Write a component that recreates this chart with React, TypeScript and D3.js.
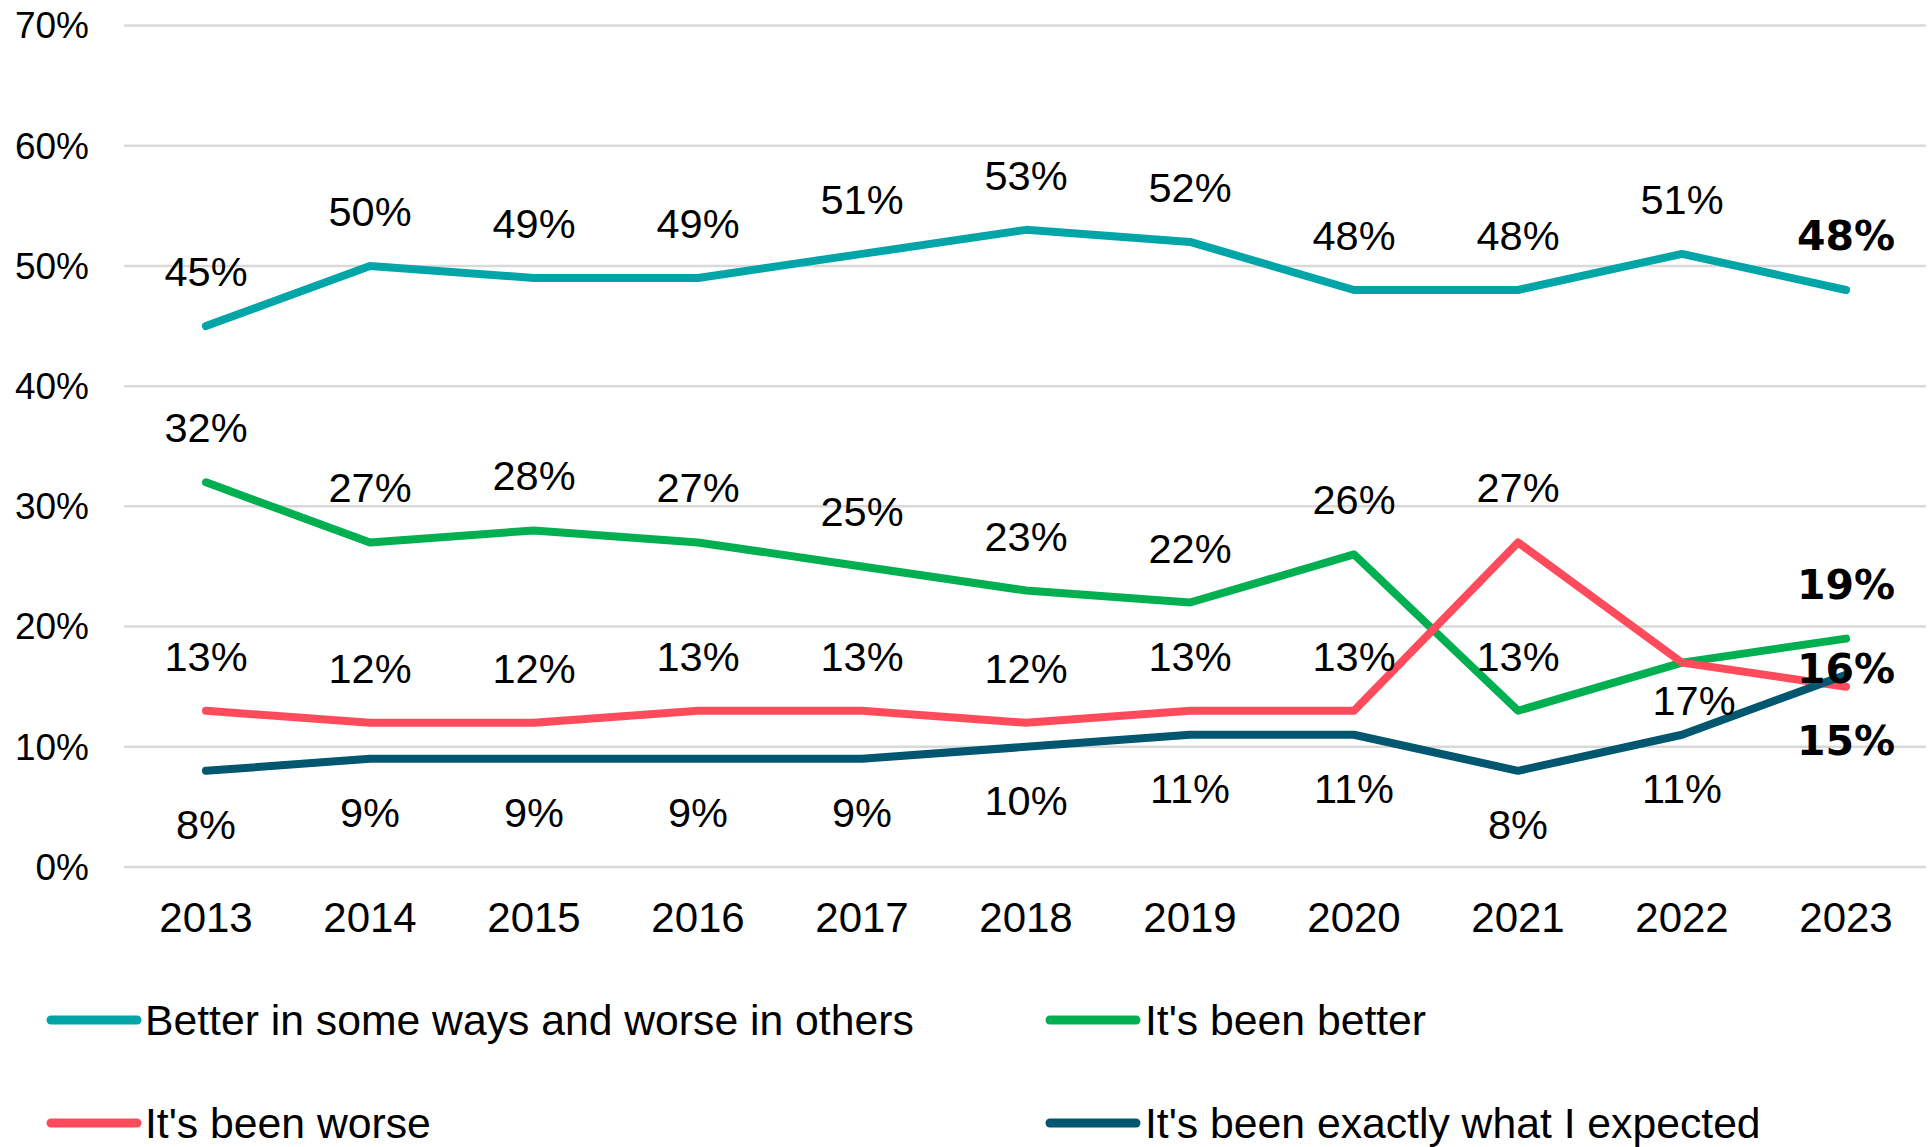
import React from 'react';
import * as d3 from 'd3';

const years = ['2013', '2014', '2015', '2016', '2017', '2018', '2019', '2020', '2021', '2022', '2023'];
const betterSomeWays = [45, 50, 49, 49, 51, 53, 52, 48, 48, 51, 48];
const beenBetter = [32, 27, 28, 27, 25, 23, 22, 26, 13, 17, 19];
const beenWorse = [13, 12, 12, 13, 13, 12, 13, 13, 27, 17, 15];
const exactlyExpected = [8, 9, 9, 9, 9, 10, 11, 11, 8, 11, 16];
const yTicks = [0, 10, 20, 30, 40, 50, 60, 70];
const seriesNames = [
  'Better in some ways and worse in others',
  "It's been better",
  "It's been worse",
  "It's been exactly what I expected",
];
const seriesColors = ['#00A5A8', '#00B050', '#FF4B5C', '#00576F'];
// label placement per point: 'a' above, 'b' below, 'c' centered, 'g' below-right, '-' none
const labelPlacement = [
  ['a', 'a', 'a', 'a', 'a', 'a', 'a', 'a', 'a', 'a', 'a'],
  ['a', 'a', 'a', 'a', 'a', 'a', 'a', 'a', 'a', 'g', 'a'],
  ['a', 'a', 'a', 'a', 'a', 'a', 'a', 'a', 'a', '-', 'b'],
  ['b', 'b', 'b', 'b', 'b', 'b', 'b', 'b', 'b', 'b', 'c'],
];

const W = 1929;
const H = 1147;
const FONT = "'Liberation Sans', Arial, sans-serif";
const BOLD_FONT = "'DejaVu Sans', 'Liberation Sans', sans-serif";

export default function App() {
  const data = [betterSomeWays, beenBetter, beenWorse, exactlyExpected];
  const x = d3.scalePoint<string>().domain(years).range([124, 1928]).padding(0.5);
  const y = d3.scaleLinear().domain([0, 70]).range([867, 25.5]);
  const line = d3
    .line<number>()
    .x((_, i) => x(years[i]) as number)
    .y((d) => y(d));

  const legendPos = [
    { lx: 51, tx: 145, ly: 1020 },
    { lx: 1050, tx: 1145, ly: 1020 },
    { lx: 51, tx: 145, ly: 1123 },
    { lx: 1050, tx: 1145, ly: 1123 },
  ];

  return (
    <svg
      width={W}
      height={H}
      style={{ position: 'absolute', left: 0, top: 0, background: '#fff' }}
      fontFamily={FONT}
    >
      <rect width={W} height={H} fill="#fff" />
      {yTicks.map((t) => (
        <g key={t}>
          <line x1={124} x2={1926} y1={y(t)} y2={y(t)} stroke="#d9d9d9" strokeWidth={2.5} />
          <text x={89} y={y(t) + 12.8} textAnchor="end" fontSize={37} fill="#000">
            {t}%
          </text>
        </g>
      ))}
      {years.map((yr) => (
        <text key={yr} x={x(yr)} y={932} textAnchor="middle" fontSize={42} fill="#000">
          {yr}
        </text>
      ))}
      {data.map((s, si) => (
        <path
          key={si}
          d={line(s) || ''}
          fill="none"
          stroke={seriesColors[si]}
          strokeWidth={8}
          strokeLinejoin="round"
          strokeLinecap="round"
        />
      ))}
      {data.map((s, si) =>
        s.map((v, i) => {
          const p = labelPlacement[si][i];
          if (p === '-') return null;
          const px = x(years[i]) as number;
          const py = y(v);
          const last = i === years.length - 1;
          let tx = px;
          let ty = py - 40;
          if (p === 'b') ty = py + 68;
          if (p === 'c') ty = py + 8;
          if (p === 'g') {
            tx = px + 12;
            ty = py + 52;
          }
          return (
            <text
              key={si + '-' + i}
              x={tx}
              y={ty}
              textAnchor="middle"
              fontSize={last ? 41 : 41.5}
              fontFamily={last ? BOLD_FONT : FONT}
              fontWeight={last ? 'bold' : 'normal'}
              fill="#000"
            >
              {v}%
            </text>
          );
        })
      )}
      {seriesNames.map((n, si) => (
        <g key={n}>
          <line
            x1={legendPos[si].lx}
            x2={legendPos[si].lx + 86}
            y1={legendPos[si].ly}
            y2={legendPos[si].ly}
            stroke={seriesColors[si]}
            strokeWidth={9}
            strokeLinecap="round"
          />
          <text x={legendPos[si].tx} y={legendPos[si].ly + 15} fontSize={42.7} fill="#000">
            {n}
          </text>
        </g>
      ))}
    </svg>
  );
}
